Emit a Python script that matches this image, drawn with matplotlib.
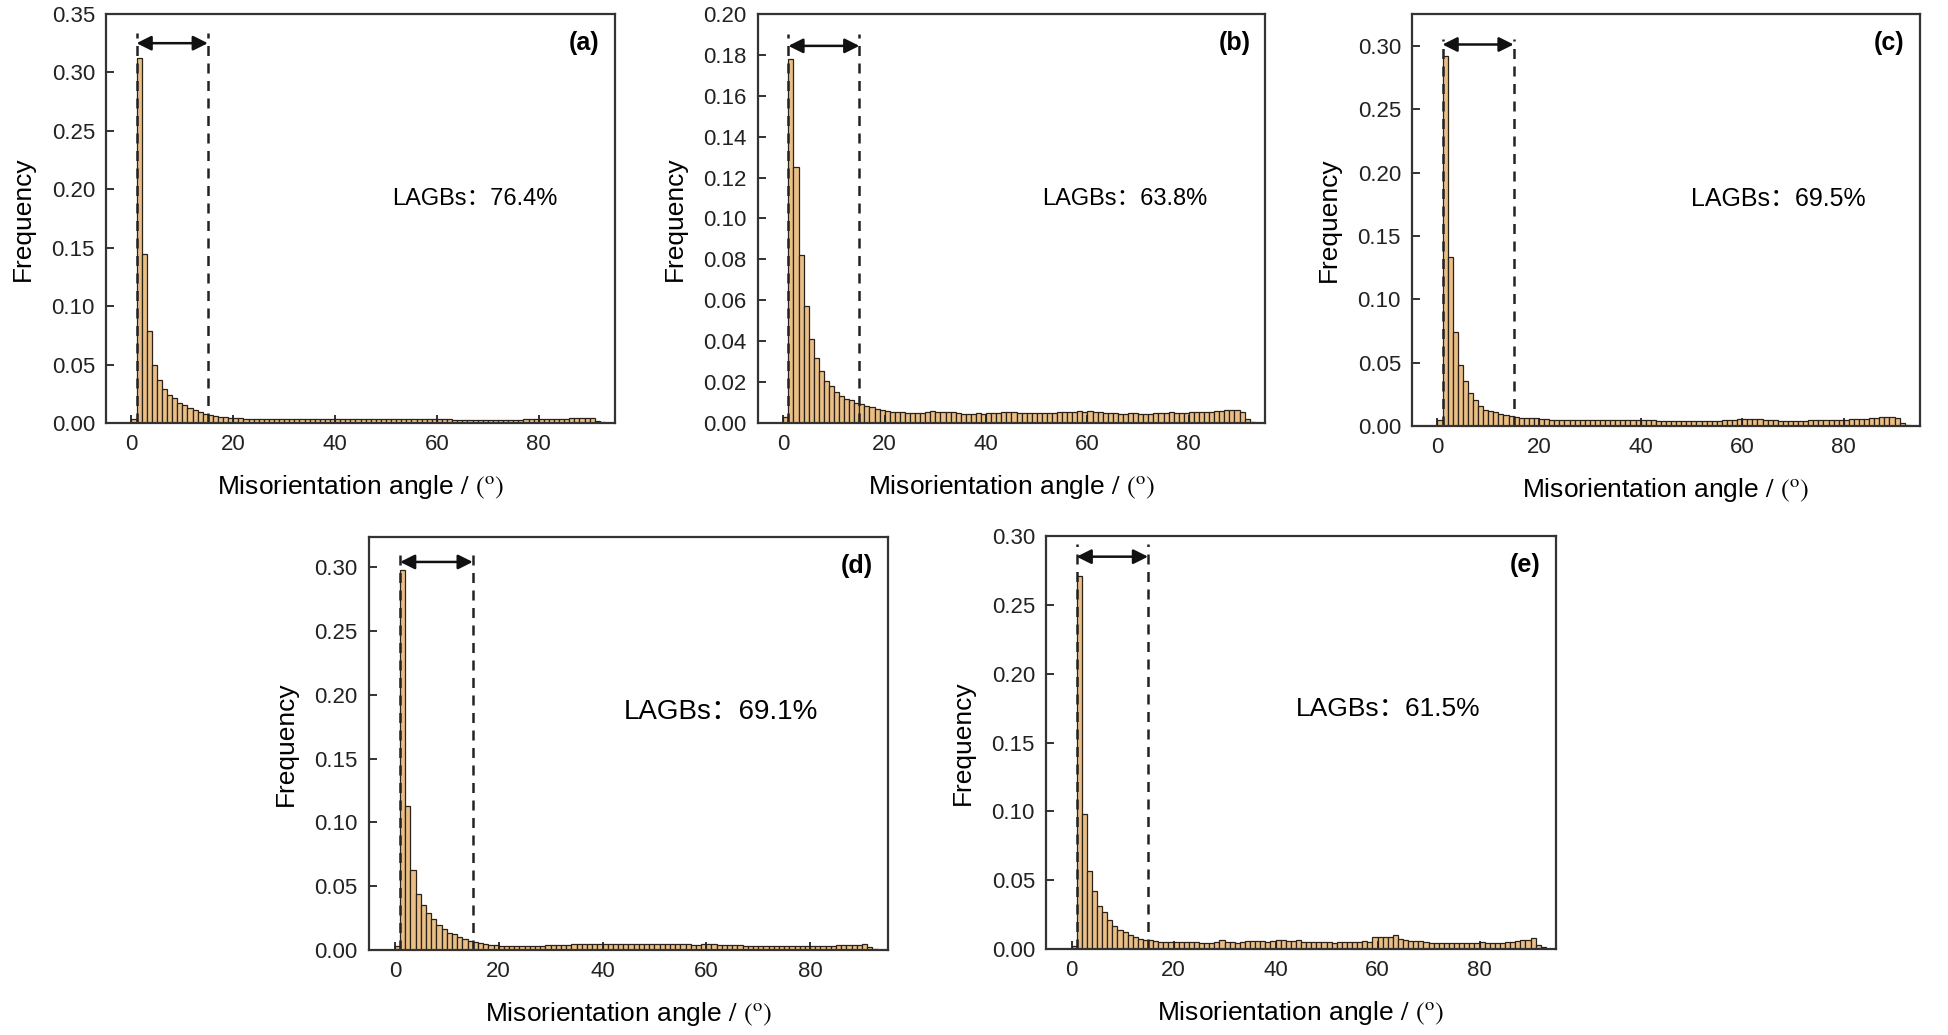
import numpy as np
import matplotlib
matplotlib.use("Agg")
import matplotlib.pyplot as plt

plt.rcParams['font.family'] = ['Liberation Sans', 'Noto Sans CJK SC', 'DejaVu Sans']
plt.rcParams['mathtext.fontset'] = 'stix'

# %% data: frequency per 1-degree bin, bin k = [k, k+1)
freq_a = [0.003, 0.312, 0.145, 0.079, 0.050, 0.037, 0.029, 0.024, 0.021, 0.017,
          0.015, 0.013, 0.011, 0.009, 0.008, 0.007, 0.006, 0.0055, 0.005, 0.0045,
          0.0045, 0.004, 0.0035, 0.0035, 0.003, 0.003, 0.003, 0.003, 0.003, 0.0032,
          0.0033, 0.0033, 0.0032, 0.0033, 0.0034, 0.0034, 0.0033, 0.0035, 0.0035, 0.0036,
          0.0038, 0.0037, 0.0037, 0.0036, 0.0036, 0.0035, 0.0035, 0.0034, 0.0034, 0.0033,
          0.0032, 0.0032, 0.0031, 0.0031, 0.0031, 0.003, 0.003, 0.003, 0.003, 0.0031,
          0.0031, 0.003, 0.003, 0.0029, 0.0029, 0.0028, 0.0028, 0.0028, 0.0027, 0.0027,
          0.0027, 0.0027, 0.0027, 0.0027, 0.0028, 0.0028, 0.0029, 0.003, 0.003, 0.0031,
          0.0032, 0.0033, 0.0034, 0.0035, 0.0036, 0.0038, 0.004, 0.0042, 0.0045, 0.0047,
          0.0045, 0.0015, 0.0005]
freq_b = [0.003, 0.178, 0.125, 0.082, 0.057, 0.041, 0.032, 0.0256, 0.0207, 0.018,
          0.015, 0.0134, 0.0117, 0.0114, 0.0098, 0.0093, 0.0085, 0.0077, 0.0068, 0.0064,
          0.006, 0.0056, 0.0054, 0.0052, 0.0051, 0.0050, 0.0049, 0.0050, 0.0053, 0.0057,
          0.0056, 0.0055, 0.0054, 0.0053, 0.0050, 0.0046, 0.0045, 0.0046, 0.0047, 0.0046,
          0.0047, 0.0048, 0.0049, 0.0052, 0.0055, 0.0053, 0.0050, 0.0048, 0.0049, 0.0050,
          0.0049, 0.0050, 0.0050, 0.0051, 0.0052, 0.0054, 0.0053, 0.0055, 0.0057, 0.0056,
          0.0057, 0.0056, 0.0054, 0.0051, 0.0049, 0.0047, 0.0046, 0.0045, 0.0047, 0.0048,
          0.0046, 0.0045, 0.0046, 0.0047, 0.0048, 0.0051, 0.0053, 0.0050, 0.0049, 0.0051,
          0.0052, 0.0053, 0.0053, 0.0054, 0.0055, 0.0057, 0.0061, 0.0063, 0.0064, 0.0065,
          0.0055, 0.0018, 0.0004]
freq_c = [0.005, 0.292, 0.133, 0.074, 0.048, 0.0355, 0.026, 0.0205, 0.0158, 0.013,
          0.012, 0.0108, 0.0095, 0.0087, 0.0079, 0.0068, 0.0066, 0.0064, 0.0062, 0.0060,
          0.0055, 0.0052, 0.0050, 0.0049, 0.0048, 0.0047, 0.0047, 0.0046, 0.0046, 0.0046,
          0.0046, 0.0045, 0.0045, 0.0045, 0.0044, 0.0044, 0.0045, 0.0045, 0.0046, 0.0047,
          0.0048, 0.0046, 0.0044, 0.0043, 0.0043, 0.0042, 0.0042, 0.0042, 0.0043, 0.0043,
          0.0042, 0.0042, 0.0041, 0.0042, 0.0043, 0.0043, 0.0044, 0.0046, 0.0050, 0.0056,
          0.0058, 0.0057, 0.0055, 0.0052, 0.0049, 0.0046, 0.0044, 0.0043, 0.0042, 0.0042,
          0.0042, 0.0043, 0.0043, 0.0044, 0.0044, 0.0045, 0.0046, 0.0047, 0.0048, 0.0049,
          0.0051, 0.0052, 0.0053, 0.0055, 0.0057, 0.0062, 0.0066, 0.0068, 0.0068, 0.0070,
          0.0062, 0.0025, 0.0008]
freq_d = [0.003, 0.298, 0.113, 0.0627, 0.0439, 0.0352, 0.0287, 0.0243, 0.0196, 0.0164,
          0.0136, 0.0123, 0.0099, 0.0089, 0.0073, 0.006, 0.0052, 0.0044, 0.0039, 0.0036,
          0.0034, 0.0031, 0.0030, 0.0030, 0.0030, 0.0031, 0.0033, 0.0034, 0.0035, 0.0036,
          0.0037, 0.0038, 0.0040, 0.0043, 0.0046, 0.0047, 0.0046, 0.0045, 0.0046, 0.0047,
          0.0048, 0.0047, 0.0046, 0.0046, 0.0047, 0.0048, 0.0047, 0.0045, 0.0045, 0.0044,
          0.0044, 0.0045, 0.0045, 0.0044, 0.0044, 0.0045, 0.0044, 0.0043, 0.0043, 0.0044,
          0.0045, 0.0044, 0.0042, 0.0041, 0.0040, 0.0038, 0.0036, 0.0034, 0.0033, 0.0032,
          0.0031, 0.0031, 0.0030, 0.0030, 0.0031, 0.0031, 0.0031, 0.0030, 0.0030, 0.0029,
          0.0030, 0.0031, 0.0032, 0.0033, 0.0035, 0.0036, 0.0037, 0.0038, 0.0039, 0.0040,
          0.0047, 0.0022, 0.0008]
freq_e = [0.002, 0.271, 0.098, 0.057, 0.042, 0.031, 0.0266, 0.0208, 0.0164, 0.014,
          0.012, 0.0104, 0.0087, 0.0075, 0.0063, 0.0068, 0.0055, 0.0053, 0.0052, 0.0051,
          0.0050, 0.0050, 0.0049, 0.0050, 0.0048, 0.0045, 0.0040, 0.0040, 0.0052, 0.0065,
          0.0050, 0.0048, 0.0047, 0.0050, 0.0058, 0.0057, 0.0056, 0.0055, 0.0052, 0.0060,
          0.0065, 0.0062, 0.0060, 0.0058, 0.0062, 0.0050, 0.0049, 0.0048, 0.0050, 0.0049,
          0.0048, 0.0047, 0.0048, 0.0049, 0.0050, 0.0052, 0.0054, 0.0055, 0.0053, 0.0085,
          0.0087, 0.0088, 0.0090, 0.0100, 0.0072, 0.0065, 0.0056, 0.0055, 0.0060, 0.0053,
          0.0045, 0.0044, 0.0043, 0.0043, 0.0044, 0.0047, 0.0045, 0.0043, 0.0044, 0.0047,
          0.0048, 0.0044, 0.0045, 0.0046, 0.0047, 0.0048, 0.0050, 0.0055, 0.0062, 0.0068,
          0.0077, 0.0030, 0.0015]

panel_names = ['(a)', '(b)', '(c)', '(d)', '(e)']
lagb_text = ['LAGBs：76.4%', 'LAGBs：63.8%', 'LAGBs：69.5%', 'LAGBs：69.1%', 'LAGBs：61.5%']
y_max = [0.35, 0.20, 0.325, 0.3235, 0.30]
y_step = [0.05, 0.02, 0.05, 0.05, 0.05]
lagb_range = (1, 15)  # LAGB interval, degrees
line_top = [0.334, 0.190, 0.3055, 0.315, 0.294]
arrow_y = [0.325, 0.1844, 0.301, 0.304, 0.285]

all_freq = [freq_a, freq_b, freq_c, freq_d, freq_e]

rects = [
    [0.0544, 0.5913, 0.2612, 0.3952],
    [0.3889, 0.5913, 0.2601, 0.3952],
    [0.7245, 0.5884, 0.2606, 0.3980],
    [0.1893, 0.0821, 0.2663, 0.3990],
    [0.5367, 0.0831, 0.2617, 0.3990],
]
text_pos = [(0.725, 0.548), (0.724, 0.548), (0.722, 0.551), (0.678, 0.576), (0.671, 0.581)]
text_size = [17, 17, 18, 20, 19]

fig = plt.figure(figsize=(19.49, 10.35), dpi=100)

for i in range(5):
    ax = fig.add_axes(rects[i])
    freq = all_freq[i]
    edges = np.arange(len(freq))
    ax.bar(edges, freq, width=1.0, align='edge', color='#E9BF86',
           edgecolor='#2b2118', linewidth=0.9)

    lo, hi = lagb_range
    ax.plot([lo, lo], [0, line_top[i]], ls=(0, (4, 3)), color='#222222', lw=1.8)
    ax.plot([hi, hi], [0, line_top[i]], ls=(0, (4, 3)), color='#222222', lw=1.8)
    ax.annotate('', xy=(lo, arrow_y[i]), xytext=(hi, arrow_y[i]),
                arrowprops=dict(arrowstyle='<|-|>', color='#111111', lw=1.8,
                                mutation_scale=22, shrinkA=0, shrinkB=0))

    ax.text(text_pos[i][0], text_pos[i][1], lagb_text[i], transform=ax.transAxes,
            ha='center', va='center', fontsize=text_size[i],
            family=['Liberation Sans', 'Noto Sans CJK SC'])
    ax.text(0.94, 0.93, panel_names[i], transform=ax.transAxes, ha='center',
            va='center', fontsize=18, fontweight='bold')

    ax.set_xlim(-5, 95)
    ax.set_ylim(0, y_max[i])
    ax.set_xticks([0, 20, 40, 60, 80])
    ax.set_yticks(np.arange(0, y_max[i] + 1e-9, y_step[i]))
    ax.yaxis.set_major_formatter(matplotlib.ticker.FormatStrFormatter('%.2f'))
    ax.tick_params(direction='in', length=6, width=1.3, labelsize=16, pad=8,
                   colors='#222222')
    for sp in ax.spines.values():
        sp.set_linewidth(1.6)
        sp.set_color('#333333')

    ax.set_xlabel(r'Misorientation angle $/$ $(^{\mathrm{o}})$', fontsize=19, labelpad=13)
    ax.set_ylabel('Frequency', fontsize=19, labelpad=12)

fig.savefig('out.png', dpi=100)
